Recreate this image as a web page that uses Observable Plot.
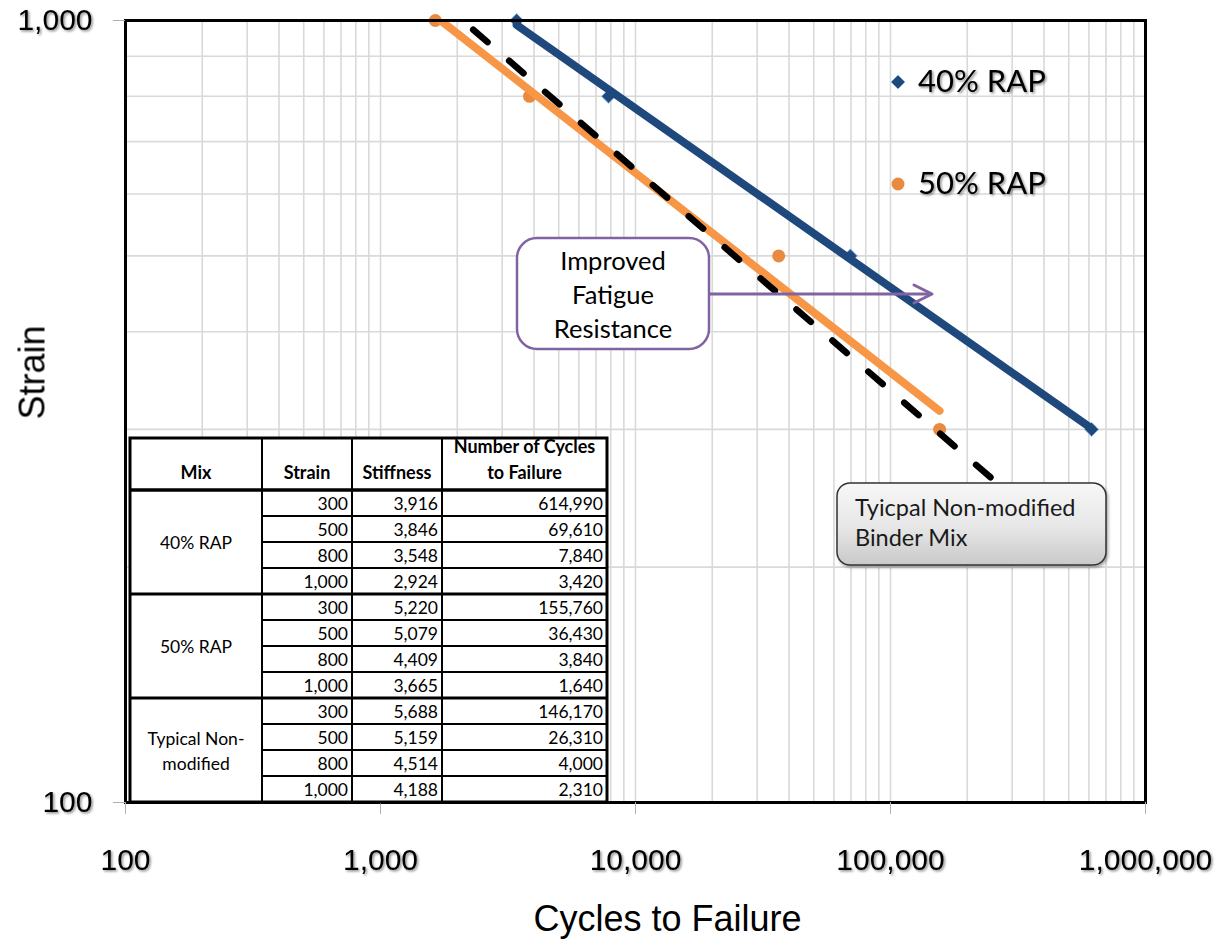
<!DOCTYPE html>
<html>
<head>
<meta charset="utf-8">
<script src="https://cdn.jsdelivr.net/npm/d3@7"></script>
<script src="https://cdn.jsdelivr.net/npm/@observablehq/plot@0.6"></script>
<style>
  body { margin: 0; background: #fff; }
  #chart { position: relative; width: 1220px; height: 949px; }
</style>
</head>
<body>
<div id="chart"></div>
<script>
// ---- Fatigue test results: strain level vs. cycles to failure ----
const strainLevels = [300, 500, 800, 1000];

const stiffness40 = [3916, 3846, 3548, 2924];
const cycles40    = [614990, 69610, 7840, 3420];

const stiffness50 = [5220, 5079, 4409, 3665];
const cycles50    = [155760, 36430, 3840, 1640];

const stiffnessTyp = [5688, 5159, 4514, 4188];
const cyclesTyp    = [146170, 26310, 4000, 2310];

// the typical-mix power trendline is projected forward to this cycle count
const typForecastTo = 250000;

const seriesNames = ["40% RAP", "50% RAP"];
const mixLabels = [["40% RAP"], ["50% RAP"], ["Typical Non-", "modified"]];
const tableHeader = [["Mix"], ["Strain"], ["Stiffness"], ["Number of Cycles", "to Failure"]];

const xMajor = [100, 1000, 10000, 100000, 1000000];
const yMajor = [100, 1000];
const xMinor = [100, 1000, 10000, 100000].flatMap(d => [1,2,3,4,5,6,7,8,9].map(k => k * d)).concat([1000000]);
const yMinor = [100, 200, 300, 400, 500, 600, 700, 800, 900, 1000];

const blue = "#1F497D", blueEdge = "#8DB3E2";
const orange = "#F79646", orangeDot = "#EA8A3E";
const purple = "#8064A2";

// power-law (y = a·x^b) least-squares fit in log–log space
function powerFit(xs, ys) {
  const lx = xs.map(Math.log10), ly = ys.map(Math.log10);
  const mx = d3.mean(lx), my = d3.mean(ly);
  const b = d3.sum(lx, (v, i) => (v - mx) * (ly[i] - my)) / d3.sum(lx, v => (v - mx) ** 2);
  const a = my - b * mx;
  return x => 10 ** (a + b * Math.log10(x));
}
function trend(xs, ys, x0, x1) {
  const f = powerFit(xs, ys);
  return [x0, x1].map(x => ({x, y: f(x)}));
}

const pts40 = cycles40.map((c, i) => ({x: c, y: strainLevels[i]}));
const pts50 = cycles50.map((c, i) => ({x: c, y: strainLevels[i]}));
const trend40 = trend(cycles40, strainLevels, d3.min(cycles40), d3.max(cycles40));
const trend50 = trend(cycles50, strainLevels, d3.min(cycles50), d3.max(cycles50));
const trendTyp = trend(cyclesTyp, strainLevels, d3.min(cyclesTyp), typForecastTo);

const fmt = d3.format(",");
const tickFont = "Liberation Sans";
const calibriLike = "Lato";

const plot = Plot.plot({
  width: 1220,
  height: 949,
  marginLeft: 125,
  marginRight: 75,
  marginTop: 20,
  marginBottom: 147,
  style: {fontFamily: tickFont, background: "#fff", overflow: "visible"},
  x: {type: "log", domain: [100, 1000000]},
  y: {type: "log", domain: [100, 1000]},
  marks: [
    Plot.gridX(xMinor, {stroke: "#d9d9d9", strokeOpacity: 1, strokeWidth: 1.6}),
    Plot.gridY(yMinor, {stroke: "#d9d9d9", strokeOpacity: 1, strokeWidth: 1.6}),
    Plot.dot(pts40, {x: "x", y: "y", symbol: "diamond2", r: 6.3, fill: blue, stroke: blueEdge, strokeWidth: 1}),
    Plot.dot(pts50, {x: "x", y: "y", symbol: "circle", r: 6.5, fill: orangeDot, stroke: "none"}),
    Plot.line(trend50, {x: "x", y: "y", stroke: orange, strokeWidth: 8, strokeLinecap: "round", clip: true}),
    Plot.line(trend40, {x: "x", y: "y", stroke: blue, strokeWidth: 8, strokeLinecap: "round", clip: true}),
    Plot.line(trendTyp, {x: "x", y: "y", stroke: "#000", strokeWidth: 6.5, strokeLinecap: "round",
      strokeDasharray: "19,28.5", clip: true}),
    Plot.frame({stroke: "#000", strokeWidth: 3}),
    Plot.axisX(xMajor, {tickFormat: fmt, tickSize: 12, tickPadding: 34, stroke: "#b0b0b0",
      fill: "#000", fontSize: 30, fontFamily: tickFont, label: null}),
    Plot.axisY(yMajor, {tickFormat: fmt, tickSize: 12, tickPadding: 21, stroke: "#b0b0b0",
      fill: "#000", fontSize: 30, fontFamily: tickFont, label: null}),
    Plot.text(["Strain"], {frameAnchor: "left", dx: -93, dy: 8, rotate: -90, fontSize: 36,
      fontFamily: tickFont, fill: "#000"}),
    Plot.text(["Cycles to Failure"], {frameAnchor: "bottom", dx: 32, dy: 128, fontSize: 36,
      fontFamily: tickFont, fill: "#000"})
  ]
});

document.getElementById("chart").appendChild(plot);

const svg = d3.select(plot);
const defs = svg.append("defs");

// soft drop shadow used by the tick labels and legend text
const shadow = defs.append("filter").attr("id", "txtShadow")
  .attr("x", "-10%").attr("y", "-20%").attr("width", "130%").attr("height", "150%");
shadow.append("feDropShadow").attr("dx", 1.5).attr("dy", 1.5).attr("stdDeviation", 0.8)
  .attr("flood-color", "#000").attr("flood-opacity", 0.45);

svg.selectAll('g[aria-label="x-axis tick label"], g[aria-label="y-axis tick label"]')
  .attr("filter", "url(#txtShadow)");

// ---- legend ----
const legend = svg.append("g").attr("text-anchor", "start");
const legendItems = [
  {name: seriesNames[0], cy: 82, sym: d3.symbolDiamond2, fill: blue, stroke: blueEdge, size: (6.3 ** 2) * Math.PI},
  {name: seriesNames[1], cy: 184, sym: d3.symbolCircle, fill: orangeDot, stroke: "none", size: (6.5 ** 2) * Math.PI}
];
legendItems.forEach(it => {
  legend.append("path").attr("d", d3.symbol(it.sym, it.size)())
    .attr("transform", `translate(898,${it.cy})`)
    .attr("fill", it.fill).attr("stroke", it.stroke).attr("stroke-width", 1);
  legend.append("text").attr("x", 918).attr("y", it.cy + 10)
    .attr("font-family", calibriLike).attr("font-size", 31).attr("fill", "#000")
    .attr("filter", "url(#txtShadow)").text(it.name);
});

// ---- "Improved Fatigue Resistance" callout ----
const callout = svg.append("g");
callout.append("line").attr("x1", 709).attr("y1", 294).attr("x2", 931).attr("y2", 294)
  .attr("stroke", purple).attr("stroke-width", 3);
callout.append("path").attr("d", "M914,285 L932,294 L914,303")
  .attr("fill", "none").attr("stroke", purple).attr("stroke-width", 3)
  .attr("stroke-linecap", "round").attr("stroke-linejoin", "round");
callout.append("rect").attr("x", 517).attr("y", 238).attr("width", 192).attr("height", 111)
  .attr("rx", 20).attr("fill", "#fff").attr("stroke", purple).attr("stroke-width", 2.5);
["Improved", "Fatigue", "Resistance"].forEach((t, i) => {
  callout.append("text").attr("x", 613).attr("y", 270 + i * 34).attr("text-anchor", "middle")
    .attr("font-family", calibriLike).attr("font-size", 25.5).attr("fill", "#000").text(t);
});

// ---- "Typical Non-modified" label box ----
const grad = defs.append("linearGradient").attr("id", "boxGrad")
  .attr("x1", 0).attr("y1", 0).attr("x2", 0).attr("y2", 1);
grad.append("stop").attr("offset", "0%").attr("stop-color", "#f7f7f7");
grad.append("stop").attr("offset", "55%").attr("stop-color", "#e6e6e6");
grad.append("stop").attr("offset", "100%").attr("stop-color", "#c9c9c9");
const boxShadow = defs.append("filter").attr("id", "boxShadow")
  .attr("x", "-10%").attr("y", "-20%").attr("width", "130%").attr("height", "150%");
boxShadow.append("feDropShadow").attr("dx", 1.5).attr("dy", 2).attr("stdDeviation", 1.5)
  .attr("flood-color", "#000").attr("flood-opacity", 0.35);

const tbox = svg.append("g").attr("text-anchor", "start");
tbox.append("rect").attr("x", 837).attr("y", 483).attr("width", 269).attr("height", 82)
  .attr("rx", 13).attr("fill", "url(#boxGrad)").attr("stroke", "#333").attr("stroke-width", 1.5)
  .attr("filter", "url(#boxShadow)");
["Tyicpal Non-modified", "Binder Mix"].forEach((t, i) => {
  tbox.append("text").attr("x", 855).attr("y", 516 + i * 30)
    .attr("font-family", calibriLike).attr("font-size", 23.5).attr("fill", "#1a1a1a").text(t);
});

// ---- data table ----
const colX = [130, 262, 352, 442, 607];
const headTop = 438, bodyTop = 490, rowH = 26;
const groups = [
  {label: mixLabels[0], stiff: stiffness40, cyc: cycles40},
  {label: mixLabels[1], stiff: stiffness50, cyc: cycles50},
  {label: mixLabels[2], stiff: stiffnessTyp, cyc: cyclesTyp}
];
const nRows = groups.length * strainLevels.length;
const tableBottom = bodyTop + nRows * rowH;
const tg = svg.append("g").attr("font-family", calibriLike).attr("fill", "#000");

tg.append("rect").attr("x", colX[0]).attr("y", headTop)
  .attr("width", colX[4] - colX[0]).attr("height", tableBottom - headTop).attr("fill", "#fff");

// header text
tableHeader.forEach((lines, c) => {
  const cx = (colX[c] + colX[c + 1]) / 2;
  lines.forEach((t, j) => {
    tg.append("text").attr("x", cx).attr("y", 479 - (lines.length - 1 - j) * 26)
      .attr("text-anchor", "middle").attr("font-size", 18).attr("font-weight", 700).text(t);
  });
});

// body text
groups.forEach((g, gi) => {
  const top = bodyTop + gi * strainLevels.length * rowH;
  const mid = top + strainLevels.length * rowH / 2;
  g.label.forEach((t, j) => {
    const y = mid + 7 + (j - (g.label.length - 1) / 2) * 25;
    tg.append("text").attr("x", (colX[0] + colX[1]) / 2).attr("y", y)
      .attr("text-anchor", "middle").attr("font-size", 17.5).text(t);
  });
  strainLevels.forEach((s, r) => {
    const y = top + r * rowH + 20;
    [s, g.stiff[r], g.cyc[r]].forEach((v, k) => {
      tg.append("text").attr("x", colX[k + 2] - 4).attr("y", y)
        .attr("text-anchor", "end").attr("font-size", 17.5).text(fmt(v));
    });
  });
});

// table rules
const rule = (x1, y1, x2, y2, w) => tg.append("line").attr("x1", x1).attr("y1", y1)
  .attr("x2", x2).attr("y2", y2).attr("stroke", "#000").attr("stroke-width", w);
for (let i = 1; i < nRows; i++) {
  const y = bodyTop + i * rowH;
  const groupBreak = i % strainLevels.length === 0;
  rule(groupBreak ? colX[0] : colX[1], y, colX[4], y, groupBreak ? 3 : 2);
}
rule(colX[0], bodyTop, colX[4], bodyTop, 3.5);
[1, 2, 3].forEach(c => rule(colX[c], headTop, colX[c], tableBottom, 2));
tg.append("rect").attr("x", colX[0]).attr("y", headTop)
  .attr("width", colX[4] - colX[0]).attr("height", tableBottom - headTop)
  .attr("fill", "none").attr("stroke", "#000").attr("stroke-width", 3);
</script>
</body>
</html>
